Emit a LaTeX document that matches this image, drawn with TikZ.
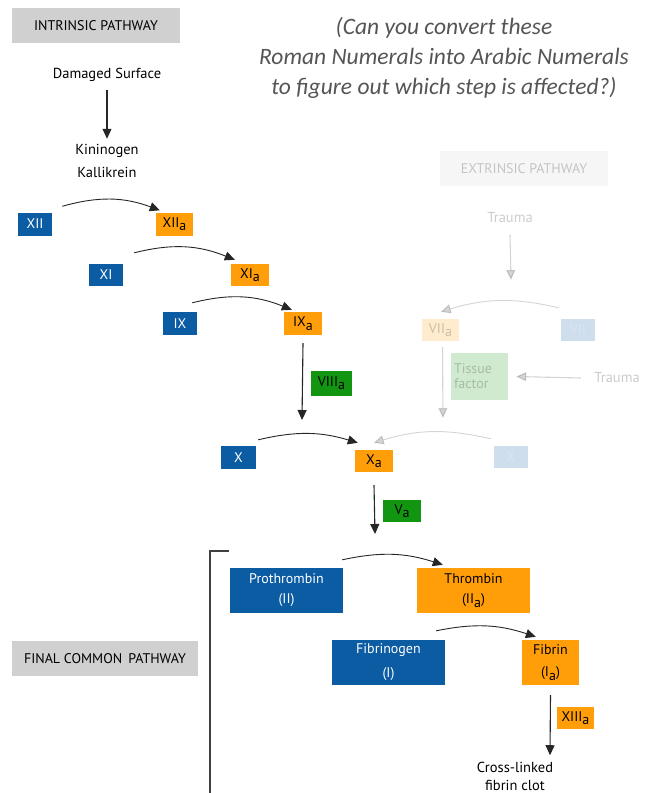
\documentclass[tikz,border=0pt]{standalone}
\usepackage{fontspec}
\setmainfont{PT Sans}
\newfontfamily\notefont{Carlito}
\usetikzlibrary{arrows.meta}
\definecolor{fblue}{RGB}{12,92,163}
\definecolor{forange}{RGB}{255,158,8}
\definecolor{fgreen}{RGB}{18,150,18}
\definecolor{hdgray}{RGB}{208,208,208}
\definecolor{notegray}{RGB}{85,85,85}
\newcommand{\actv}[1]{#1\raisebox{-.5ex}{a}}

\begin{document}
\begin{tikzpicture}[x=1pt,y=-1pt]
\tikzstyle{factor} = [inner sep = 0pt, minimum height = 23pt, font = \fontsize{14}{16}\selectfont]
\tikzstyle{inact} = [factor, fill = fblue, text = white, minimum width = 34pt]
\tikzstyle{act} = [factor, fill = forange, text = black, minimum width = 38pt]
\tikzstyle{cofac} = [factor, fill = fgreen, text = black, minimum width = 40pt]
\tikzstyle{bigbox} = [factor, align = center, minimum width = 113pt, minimum height = 45pt]
\tikzstyle{heading} = [fill = hdgray, inner sep = 0pt, minimum height = 35pt, font = \fontsize{14}{16}\selectfont]
\tikzstyle{plain} = [align = center, font = \fontsize{14.5}{23}\selectfont]
\tikzset{stepline/.style = {-{Triangle[length = 10pt, width = 9pt]}, line width = 1.1pt, draw = black!85},
  curve/.style = {stepline, line width = 0.9pt}}
\useasboundingbox (0,0) rectangle (655,793);

% headings and note
\node [heading, minimum width = 168pt] (intr) at (96,25.5) {INTRINSIC PATHWAY};
\node [heading, minimum width = 186pt] (final) at (105,658.5) {FINAL COMMON\, PATHWAY};
\node [align = center, text = notegray, font = \notefont\itshape\fontsize{23.5}{30}\selectfont] (note) at (444,58)
  {(Can you convert these\\Roman Numerals into Arabic Numerals\\to figure out which step is affected?)};

% intrinsic pathway
\node [plain] (dmg) at (107,75) {Damaged Surface};
\node [plain] (kin) at (107,161) {Kininogen\\Kallikrein};
\node [inact] (f12) at (35,224) {XII};
\node [act, minimum width = 37pt] (f12a) at (174.5,224) {\actv{XII}};
\node [inact, minimum height = 22pt] (f11) at (106,275) {XI};
\node [act, minimum height = 22pt] (f11a) at (250,275) {\actv{XI}};
\node [inact] (f9) at (180,323.5) {IX};
\node [act] (f9a) at (303,323.5) {\actv{IX}};
\node [cofac, minimum width = 41pt, minimum height = 25pt] (f8a) at (331.5,383) {\actv{VIII}};
\node [inact, minimum width = 35pt] (f10) at (238.5,457.5) {X};
\node [act, minimum height = 22pt] (f10a) at (374,461) {\actv{X}};
\node [cofac, minimum width = 38pt, minimum height = 22pt] (f5a) at (402,511) {\actv{V}};
\coordinate (xin) at (302,420);
\coordinate (pin) at (375,534);

\draw [stepline] ([yshift = -15pt]dmg.center) -- ([yshift = 2pt]kin.north);
\draw [curve] ([shift = {(10,-6)}]f12.north east) to [bend left = 18] ([shift = {(4,-2)}]f12a.north west);
\draw [curve] ([shift = {(11,-11)}]f11.north east) to [bend left = 18] ([shift = {(4,-4)}]f11a.north west);
\draw [curve] ([shift = {(-5,-9)}]f9.north east) to [bend left = 18] ([shift = {(8,-2)}]f9a.north west);
\draw [stepline] ([yshift = -8pt]f9a.south) -- (xin);
\draw [curve] ([shift = {(2,-6)}]f10.north east) to [bend left = 15] ([shift = {(3,-7)}]f10a.north west);
\draw [stepline] ([yshift = -13pt]f10a.south) -- (pin);

% extrinsic pathway (faded)
\begin{scope}[opacity = 0.2]
\node [heading, minimum width = 168pt] (extr) at (524,168.5) {EXTRINSIC PATHWAY};
\node [plain] (trm1) at (510,218) {Trauma};
\node [plain] (trm2) at (617,378) {Trauma};
\node [act, minimum width = 37pt, minimum height = 22pt] (f7a) at (440.5,330) {\actv{VII}};
\node [inact, minimum height = 22pt] (f7) at (578,330) {VII};
\node [cofac, align = left, minimum width = 57pt, minimum height = 47pt, text width = 51pt] (tf) at (479.5,376.5) {Tissue\\[-1pt]factor};
\node [inact, minimum height = 22pt] (f10x) at (511,457) {X};
\coordinate (vin) at (511,280);
\coordinate (tin) at (443,418);
\draw [stepline] ([yshift = -8pt]trm1.south) -- (vin);
\draw [curve] ([shift = {(-2,-11)}]f7.north west) to [bend right = 15] ([shift = {(19,-7)}]f7a.north west);
\draw [stepline] ([xshift = -10pt]trm2.west) -- ([xshift = 8pt]tf.east);
\draw [stepline] ([shift = {(2,6)}]f7a.south) -- (tin);
\draw [curve] ([shift = {(-3,-7)}]f10x.north west) to [bend right = 15] ([shift = {(19,-7)}]f10a.north west);
\end{scope}

% final common pathway
\draw [line width = 1.4pt, draw = black!75] (229,551) -- (210,551) -- (210,793);
\node [bigbox, fill = fblue, text = white, font = \fontsize{14}{20}\selectfont] (proth) at (286.5,590.5) {Prothrombin\\(II)};
\node [bigbox, fill = forange, text = black, font = \fontsize{14}{20}\selectfont] (thromb) at (473.5,590.5) {Thrombin\\(\actv{II})};
\node [bigbox, fill = fblue, text = white, font = \fontsize{14}{24}\selectfont] (fbgn) at (388.5,662.5) {Fibrinogen\\(I)};
\node [bigbox, fill = forange, text = black, minimum width = 57pt, font = \fontsize{14}{22}\selectfont] (fbrn) at (550.5,662.5) {Fibrin\\(\actv{I})};
\node [act, minimum width = 37pt, minimum height = 22pt] (f13a) at (575.5,718) {\actv{XIII}};
\node [plain, font = \fontsize{14.5}{18}\selectfont] (clot) at (515,776) {Cross-linked\\fibrin clot};
\draw [curve] ([shift = {(-1,-8)}]proth.north east) to [bend left = 15] ([shift = {(26,-3)}]thromb.north west);
\draw [curve] ([shift = {(-9,-9)}]fbgn.north east) to [bend left = 15] ([shift = {(14,-3)}]fbrn.north west);
\draw [stepline] ([yshift = -10pt]fbrn.south) -- ([shift = {(35,-3)}]clot.north);
\end{tikzpicture}
\end{document}
